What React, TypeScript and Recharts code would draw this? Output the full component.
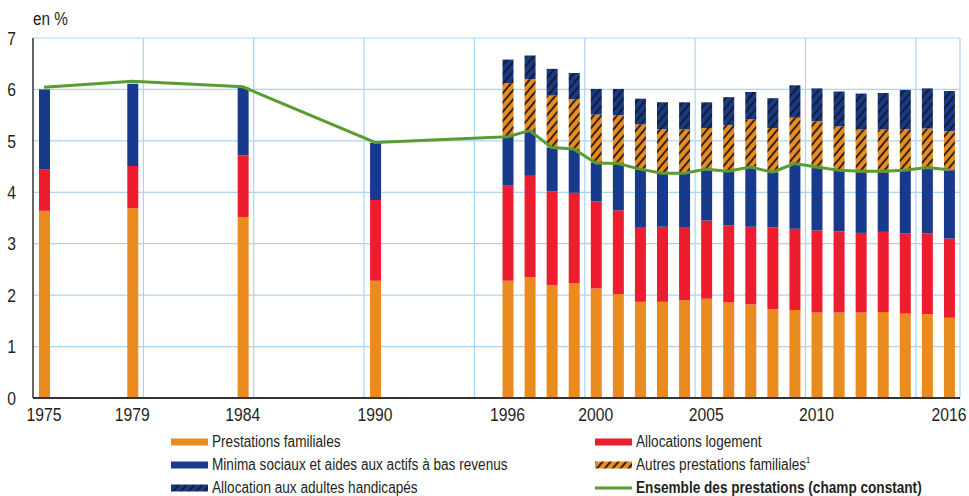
import React from 'react';
import { ComposedChart, Bar, Line, XAxis, YAxis, CartesianGrid, ReferenceLine } from 'recharts';

const years = [1975, 1979, 1984, 1990, 1996, 1997, 1998, 1999, 2000, 2001, 2002, 2003, 2004, 2005, 2006, 2007, 2008, 2009, 2010, 2011, 2012, 2013, 2014, 2015, 2016];
const prestationsFamiliales = [3.64, 3.69, 3.52, 2.28, 2.28, 2.35, 2.19, 2.23, 2.13, 2.02, 1.87, 1.87, 1.9, 1.93, 1.86, 1.82, 1.73, 1.71, 1.66, 1.66, 1.66, 1.67, 1.64, 1.63, 1.56];
const allocationsLogement = [0.81, 0.82, 1.2, 1.57, 1.85, 1.97, 1.83, 1.76, 1.69, 1.63, 1.44, 1.46, 1.41, 1.52, 1.5, 1.51, 1.59, 1.58, 1.6, 1.58, 1.55, 1.56, 1.56, 1.57, 1.54];
const minimaSociaux = [1.55, 1.6, 1.32, 1.11, 0.95, 0.88, 0.85, 0.85, 0.75, 0.91, 1.14, 1.05, 1.07, 1.0, 1.05, 1.17, 1.07, 1.27, 1.21, 1.18, 1.18, 1.16, 1.23, 1.26, 1.33];
const autresPrestations = [null, null, null, null, 1.04, 1.0, 1.01, 0.97, 0.94, 0.94, 0.87, 0.85, 0.84, 0.8, 0.9, 0.92, 0.86, 0.89, 0.91, 0.86, 0.83, 0.83, 0.8, 0.78, 0.76];
const allocationAdultesHandicapes = [null, null, null, null, 0.46, 0.46, 0.52, 0.51, 0.5, 0.51, 0.5, 0.52, 0.53, 0.5, 0.54, 0.53, 0.58, 0.63, 0.64, 0.68, 0.7, 0.71, 0.76, 0.78, 0.78];
const ensemblePrestations = [6.04, 6.16, 6.05, 4.97, 5.08, 5.2, 4.87, 4.84, 4.57, 4.56, 4.45, 4.37, 4.37, 4.45, 4.41, 4.49, 4.39, 4.56, 4.49, 4.43, 4.41, 4.41, 4.43, 4.48, 4.44];

const xTicks = [1975, 1979, 1984, 1990, 1996, 2000, 2005, 2010, 2016];
const yTicks = [0, 1, 2, 3, 4, 5, 6, 7];
const gridYears = [1979.5, 1984.5, 1989.5, 1994.5, 1999.5, 2004.5, 2009.5, 2014.5, 2016.5];

const FONT = "'Liberation Sans', Arial, sans-serif";
const SQ = 0.85;
const TXT = '#231f20';
const ORANGE = '#e98b1e';
const RED = '#ee1c2f';
const BLUE = '#183a8d';
const GREEN = '#5b9c32';
const GRID = '#a9d5f3';
const AXIS = '#333333';

const data = years.map((year, i) => ({
  year,
  pf: prestationsFamiliales[i],
  al: allocationsLogement[i],
  ms: minimaSociaux[i],
  ap: autresPrestations[i],
  aah: allocationAdultesHandicapes[i],
  ens: ensemblePrestations[i],
}));

const Hatch = ({ id, color }: { id: string; color: string }) => (
  <pattern id={id} patternUnits="userSpaceOnUse" width="6" height="6" patternTransform="rotate(40)">
    <rect x="0" y="0" width="6" height="6" fill={color} />
    <line x1="1" y1="0" x2="1" y2="6" stroke="#1a1a1a" strokeWidth="1.8" />
  </pattern>
);

const Swatch = ({ kind, color, id }: { kind: string; color: string; id: string }) => (
  <svg width={37} height={10} style={{ display: 'block', marginRight: 4, flex: 'none' }}>
    {kind === 'hatch' && (
      <defs>
        <Hatch id={id} color={color} />
      </defs>
    )}
    {kind === 'line' ? (
      <line x1={0} y1={5} x2={37} y2={5} stroke={color} strokeWidth={3} />
    ) : (
      <rect x={0} y={1.5} width={37} height={7} fill={kind === 'hatch' ? `url(#${id})` : color} />
    )}
  </svg>
);

const XTick = (props: any) => {
  const { x, y, payload } = props;
  return (
    <text
      x={x}
      y={y}
      dy="0.71em"
      textAnchor="middle"
      fontSize={18.5}
      fill={TXT}
      fontFamily={FONT}
      transform={`translate(${x} 0) scale(${SQ} 1) translate(${-x} 0)`}
    >
      {payload.value}
    </text>
  );
};

const YTick = (props: any) => {
  const { x, y, payload } = props;
  return (
    <text
      x={x}
      y={y}
      dy="0.36em"
      textAnchor="end"
      fontSize={18.5}
      fill={TXT}
      fontFamily={FONT}
      transform={`translate(${x} 0) scale(${SQ} 1) translate(${-x} 0)`}
    >
      {payload.value}
    </text>
  );
};

const legendItems = [
  { label: 'Prestations familiales', kind: 'solid', color: ORANGE, col: 0, row: 0 },
  { label: 'Allocations logement', kind: 'solid', color: RED, col: 1, row: 0 },
  { label: 'Minima sociaux et aides aux actifs à bas revenus', kind: 'solid', color: BLUE, col: 0, row: 1 },
  { label: 'Autres prestations familiales', sup: '1', kind: 'hatch', color: ORANGE, col: 1, row: 1 },
  { label: 'Allocation aux adultes handicapés', kind: 'hatch', color: BLUE, col: 0, row: 2 },
  { label: 'Ensemble des prestations (champ constant)', kind: 'line', color: GREEN, col: 1, row: 2, bold: true },
];

export default function App() {
  return (
    <div style={{ position: 'absolute', left: 0, top: 0, width: 969, height: 496, background: '#fff', fontFamily: FONT, color: TXT, overflow: 'hidden' }}>
      <div
        style={{
          position: 'absolute',
          left: 33,
          top: 8,
          fontSize: 18,
          lineHeight: '22px',
          transform: `scaleX(${SQ})`,
          transformOrigin: 'left center',
        }}
      >
        en %
      </div>
      <ComposedChart width={969} height={496} data={data} margin={{ top: 38, right: 9, bottom: 68, left: 0 }}>
        <defs>
          <Hatch id="hatchOrange" color={ORANGE} />
          <Hatch id="hatchBlue" color={BLUE} />
        </defs>
        <CartesianGrid vertical={false} stroke={GRID} strokeWidth={1.2} />
        {gridYears.map((g) => (
          <ReferenceLine key={g} x={g} stroke={GRID} strokeWidth={1.2} />
        ))}
        <XAxis
          dataKey="year"
          type="number"
          domain={[1974.5, 2016.5]}
          ticks={xTicks}
          interval={0}
          allowDataOverflow
          tickLine={false}
          tickSize={0}
          tickMargin={10}
          height={30}
          axisLine={{ stroke: AXIS, strokeWidth: 2 }}
          tick={<XTick />}
        />
        <YAxis
          domain={[0, 7]}
          ticks={yTicks}
          interval={0}
          width={33}
          tickLine={false}
          tickSize={0}
          tickMargin={17}
          axisLine={{ stroke: AXIS, strokeWidth: 1.5 }}
          tick={<YTick />}
        />
        <Bar dataKey="pf" stackId="a" fill={ORANGE} barSize={11} isAnimationActive={false} />
        <Bar dataKey="al" stackId="a" fill={RED} barSize={11} isAnimationActive={false} />
        <Bar dataKey="ms" stackId="a" fill={BLUE} barSize={11} isAnimationActive={false} />
        <Bar dataKey="ap" stackId="a" fill="url(#hatchOrange)" barSize={11} isAnimationActive={false} />
        <Bar dataKey="aah" stackId="a" fill="url(#hatchBlue)" barSize={11} isAnimationActive={false} />
        <Line dataKey="ens" type="linear" stroke={GREEN} strokeWidth={3} dot={false} activeDot={false} isAnimationActive={false} />
      </ComposedChart>
      {legendItems.map((it, i) => (
        <div
          key={i}
          style={{
            position: 'absolute',
            left: it.col === 0 ? 171 : 595,
            top: 430 + it.row * 23,
            height: 23,
            display: 'flex',
            alignItems: 'center',
            fontSize: 16,
            fontWeight: it.bold ? 'bold' : 'normal',
            whiteSpace: 'nowrap',
          }}
        >
          <Swatch kind={it.kind} color={it.color} id={`lg${i}`} />
          <span style={{ display: 'inline-block', transform: `scaleX(${SQ})`, transformOrigin: 'left center' }}>
            {it.label}
            {it.sup && <sup style={{ fontSize: 9, verticalAlign: 'top', position: 'relative', top: -1 }}>{it.sup}</sup>}
          </span>
        </div>
      ))}
    </div>
  );
}
